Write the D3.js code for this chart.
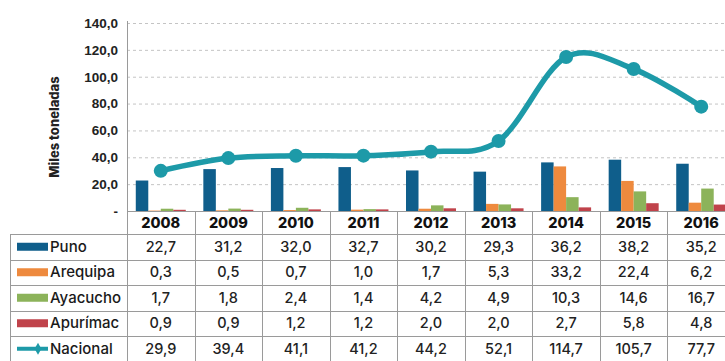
<!DOCTYPE html>
<html>
<head>
<meta charset="utf-8">
<script src="https://cdn.jsdelivr.net/npm/d3@7"></script>
<style>
  html, body { margin: 0; padding: 0; background: #fff; }
  svg { display: block; font-family: Inter, Lato, sans-serif; }
  .grid line { stroke: #c4c4c4; stroke-dasharray: 3 3; }
  .grid path { display: none; }
  .yaxis text { font-size: 13.5px; font-weight: 700; fill: #222; }
  .yaxis path, .yaxis line { display: none; }
  .cell { stroke: #9a9a9a; fill: none; }
  .year { font-size: 14.5px; font-weight: 800; fill: #111; }
  .val { font-size: 14.5px; font-weight: 500; fill: #222; }
  .name { font-size: 15px; font-weight: 500; fill: #1a1a1a; }
</style>
</head>
<body>
<svg id="chart" width="725" height="361"></svg>
<script>
const years = ['2008', '2009', '2010', '2011', '2012', '2013', '2014', '2015', '2016']
const puno = [22.7, 31.2, 32.0, 32.7, 30.2, 29.3, 36.2, 38.2, 35.2]
const arequipa = [0.3, 0.5, 0.7, 1.0, 1.7, 5.3, 33.2, 22.4, 6.2]
const ayacucho = [1.7, 1.8, 2.4, 1.4, 4.2, 4.9, 10.3, 14.6, 16.7]
const apurimac = [0.9, 0.9, 1.2, 1.2, 2.0, 2.0, 2.7, 5.8, 4.8]
const nacional = [29.9, 39.4, 41.1, 41.2, 44.2, 52.1, 114.7, 105.7, 77.7]
const yTicks = [0, 20, 40, 60, 80, 100, 120, 140]

const barSeries = [
  { name: 'Puno', values: puno, color: '#0f5e8b' },
  { name: 'Arequipa', values: arequipa, color: '#ee8a3e' },
  { name: 'Ayacucho', values: ayacucho, color: '#8cb35a' },
  { name: 'Apurímac', values: apurimac, color: '#c0434b' }
]
const lineSeries = { name: 'Nacional', values: nacional, color: '#1d9aa8' }
const rows = [...barSeries, lineSeries]

const svg = d3.select('#chart')
const fmt = (v) => (v === 0 ? '-' : d3.format('.1f')(v).replace('.', ','))

const x = d3.scaleBand().domain(years).range([127, 735])
const y = d3.scaleLinear().domain([0, 140]).range([211, 23])
const bw = x.bandwidth()
const x1 = d3
  .scaleBand()
  .domain(barSeries.map((s) => s.name))
  .range([bw * 0.13, bw * 0.87])

// grid + y labels
svg
  .append('g')
  .attr('class', 'grid')
  .attr('transform', 'translate(127,0)')
  .call(d3.axisLeft(y).tickValues(yTicks.filter((t) => t > 0)).tickSize(-600).tickFormat(''))

svg
  .append('g')
  .attr('class', 'yaxis')
  .attr('transform', 'translate(118,0)')
  .call(d3.axisLeft(y).tickValues(yTicks).tickSize(0).tickPadding(0).tickFormat(fmt))

svg
  .append('line')
  .attr('x1', 127.5).attr('x2', 127.5)
  .attr('y1', y(140) - 2).attr('y2', y(0))
  .attr('stroke', '#9a9a9a')

svg
  .append('text')
  .attr('transform', `translate(59,${(y(140) + y(0)) / 2 + 10}) rotate(-90)`)
  .attr('text-anchor', 'middle')
  .attr('font-size', 13)
  .attr('font-weight', 800)
  .attr('fill', '#222')
  .text('Miles toneladas')

// bars
const groups = svg
  .append('g')
  .selectAll('g')
  .data(years)
  .join('g')
  .attr('transform', (d) => `translate(${x(d)},0)`)

groups
  .selectAll('rect')
  .data((d, i) => barSeries.map((s) => ({ name: s.name, color: s.color, value: s.values[i] })))
  .join('rect')
  .attr('x', (d) => x1(d.name))
  .attr('width', x1.bandwidth())
  .attr('y', (d) => y(d.value))
  .attr('height', (d) => y(0) - y(d.value))
  .attr('fill', (d) => d.color)

// line
const pts = years.map((yr, i) => [x(yr) + bw / 2, y(nacional[i])])
svg
  .append('path')
  .attr('d', d3.line().curve(d3.curveCardinal.tension(0))(pts))
  .attr('fill', 'none')
  .attr('stroke', lineSeries.color)
  .attr('stroke-width', 5.5)
  .attr('stroke-linecap', 'round')

svg
  .append('g')
  .selectAll('circle')
  .data(pts)
  .join('circle')
  .attr('cx', (d) => d[0])
  .attr('cy', (d) => d[1])
  .attr('r', 7)
  .attr('fill', lineSeries.color)

// table
const headTop = 211
const headBottom = 234
const ry = d3.scaleBand().domain(rows.map((r) => r.name)).range([headBottom, 361.5])
const rh = ry.bandwidth()
const table = svg.append('g')

// horizontal lines
table
  .append('line')
  .attr('class', 'cell')
  .attr('x1', 127).attr('x2', 725)
  .attr('y1', headTop + 0.5).attr('y2', headTop + 0.5)
  .attr('stroke', '#777')
table
  .selectAll('.hline')
  .data(rows.map((r) => r.name))
  .join('line')
  .attr('class', 'cell hline')
  .attr('x1', 10).attr('x2', 725)
  .attr('y1', (d) => Math.round(ry(d)) + 0.5)
  .attr('y2', (d) => Math.round(ry(d)) + 0.5)
// vertical lines
table
  .selectAll('.vline')
  .data(years)
  .join('line')
  .attr('class', 'cell vline')
  .attr('x1', (d) => Math.round(x(d)) + 0.5)
  .attr('x2', (d) => Math.round(x(d)) + 0.5)
  .attr('y1', headTop).attr('y2', 361)
table
  .append('line')
  .attr('class', 'cell')
  .attr('x1', 10.5).attr('x2', 10.5)
  .attr('y1', headBottom).attr('y2', 361)

table
  .selectAll('.year')
  .data(years)
  .join('text')
  .attr('class', 'year')
  .attr('x', (d) => x(d) + bw / 2)
  .attr('y', (headTop + headBottom) / 2 + 5)
  .attr('text-anchor', 'middle')
  .text((d) => d)

const rowG = table
  .selectAll('.row')
  .data(rows)
  .join('g')
  .attr('class', 'row')
  .attr('transform', (d) => `translate(0,${ry(d.name)})`)

rowG
  .append('text')
  .attr('class', 'name')
  .attr('x', 50)
  .attr('y', rh / 2 + 5)
  .text((d) => d.name)

rowG
  .filter((d) => d.name !== 'Nacional')
  .append('rect')
  .attr('x', 17).attr('width', 31)
  .attr('y', rh / 2 - 4).attr('height', 8)
  .attr('fill', (d) => d.color)

const nac = rowG.filter((d) => d.name === 'Nacional')
nac
  .append('line')
  .attr('x1', 17).attr('x2', 48)
  .attr('y1', rh / 2).attr('y2', rh / 2)
  .attr('stroke', lineSeries.color)
  .attr('stroke-width', 4)
nac
  .append('path')
  .attr('d', d3.symbol(d3.symbolDiamond, 40)())
  .attr('transform', `translate(38,${rh / 2})`)
  .attr('fill', lineSeries.color)

rowG
  .selectAll('.val')
  .data((d) => d.values.map((v, i) => ({ v, yr: years[i] })))
  .join('text')
  .attr('class', 'val')
  .attr('x', (d) => x(d.yr) + bw / 2)
  .attr('y', rh / 2 + 5)
  .attr('text-anchor', 'middle')
  .text((d) => fmt(d.v))
</script>
</body>
</html>
